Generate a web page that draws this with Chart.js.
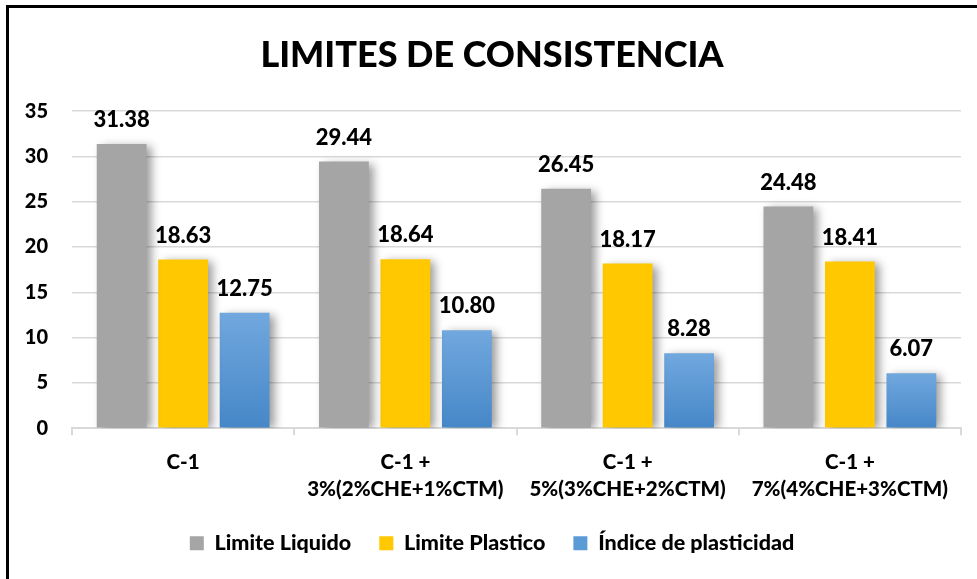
<!DOCTYPE html>
<html>
<head>
<meta charset="utf-8">
<script src="https://cdn.jsdelivr.net/npm/chart.js@4"></script>
<style>
  body { margin: 0; background: #fff; }
  #wrap { position: relative; width: 977px; height: 579px; }
  #frame { position: absolute; left: 6px; top: 5px; right: -10px; bottom: -10px;
           border-left: 3px solid #000; border-top: 3px solid #000; pointer-events: none; }
</style>
</head>
<body>
<div id="wrap">
  <canvas id="limites" width="977" height="579"></canvas>
  <div id="frame"></div>
</div>
<script>
// valores
var categorias = [
  ['C-1'],
  ['C-1 +', '3%(2%CHE+1%CTM)'],
  ['C-1 +', '5%(3%CHE+2%CTM)'],
  ['C-1 +', '7%(4%CHE+3%CTM)']
];
var limiteLiquido = [31.38, 29.44, 26.45, 24.48];
var limitePlastico = [18.63, 18.64, 18.17, 18.41];
var indicePlasticidad = [12.75, 10.80, 8.28, 6.07];
var ticksY = [0, 5, 10, 15, 20, 25, 30, 35];

var fuente = 'Lato, "Open Sans", sans-serif';

// degradado azul por barra
function azul(ctx) {
  var chart = ctx.chart;
  var y = chart.scales.y;
  if (!y || ctx.raw === undefined) return '#5b9bd5';
  var top = y.getPixelForValue(ctx.raw);
  var bottom = y.getPixelForValue(0);
  var g = chart.ctx.createLinearGradient(0, top, 0, bottom);
  g.addColorStop(0, '#71a8de');
  g.addColorStop(1, '#4687c8');
  return g;
}

var sombra = {
  id: 'sombra',
  beforeDatasetsDraw: function(chart) {
    var c = chart.ctx;
    c.save();
    c.shadowColor = 'rgba(0,0,0,0.4)';
    c.shadowBlur = 9;
    c.shadowOffsetX = 5;
    c.shadowOffsetY = 2;
  },
  afterDatasetsDraw: function(chart) {
    chart.ctx.restore();
  }
};

var etiquetas = {
  id: 'etiquetas',
  afterDraw: function(chart) {
    var c = chart.ctx;
    c.save();
    c.font = '900 22px ' + fuente;
    c.fillStyle = '#000';
    c.textAlign = 'center';
    c.textBaseline = 'middle';
    chart.data.datasets.forEach(function(ds, i) {
      chart.getDatasetMeta(i).data.forEach(function(bar, j) {
        c.fillText(ds.data[j].toFixed(2), bar.x, bar.y - 24);
      });
    });
    c.restore();
  }
};

new Chart(document.getElementById('limites').getContext('2d'), {
  type: 'bar',
  data: {
    labels: categorias,
    datasets: [{
      label: 'Limite Liquido',
      backgroundColor: '#a5a5a5',
      data: limiteLiquido
    }, {
      label: 'Limite Plastico',
      backgroundColor: '#ffc800',
      data: limitePlastico
    }, {
      label: 'Índice de plasticidad',
      backgroundColor: azul,
      data: indicePlasticidad
    }]
  },
  options: {
    responsive: false,
    animation: false,
    categoryPercentage: 0.83,
    barPercentage: 0.81,
    layout: { padding: { left: 23, right: 16, top: 0, bottom: 15 } },
    plugins: {
      title: {
        display: true,
        text: 'LIMITES DE CONSISTENCIA',
        color: '#000',
        font: { family: fuente, size: 36, weight: '900' },
        padding: { top: 34, bottom: 34 }
      },
      legend: {
        position: 'bottom',
        labels: {
          color: '#000',
          boxWidth: 14,
          boxHeight: 14,
          padding: 28,
          font: { family: fuente, size: 21.5, weight: '900' },
          generateLabels: function(chart) {
            var cols = ['#a5a5a5', '#ffc800', '#5b9bd5'];
            return chart.data.datasets.map(function(ds, i) {
              return { text: ds.label, fillStyle: cols[i], strokeStyle: cols[i], lineWidth: 0, datasetIndex: i, fontColor: '#000' };
            });
          }
        }
      },
      tooltip: { enabled: false }
    },
    scales: {
      x: {
        afterFit: function(scale) { scale.height -= 12; },
        grid: { offset: true, drawOnChartArea: false, drawTicks: true, tickLength: 7, color: '#d9d9d9', lineWidth: 2 },
        border: { color: '#d9d9d9', width: 2 },
        ticks: {
          color: '#000',
          padding: 13,
          maxRotation: 0,
          font: { family: fuente, size: 20.5, weight: '900', lineHeight: 1.35 }
        }
      },
      y: {
        min: 0,
        max: 35,
        afterFit: function(scale) { scale.width = 49; },
        afterBuildTicks: function(scale) {
          scale.ticks = ticksY.map(function(v) { return { value: v }; });
        },
        grid: { color: '#d9d9d9', lineWidth: 1.5, drawTicks: false },
        border: { display: false },
        ticks: {
          color: '#000',
          padding: 24,
          font: { family: fuente, size: 20, weight: '900' }
        }
      }
    }
  },
  plugins: [sombra, etiquetas]
});
</script>
</body>
</html>
